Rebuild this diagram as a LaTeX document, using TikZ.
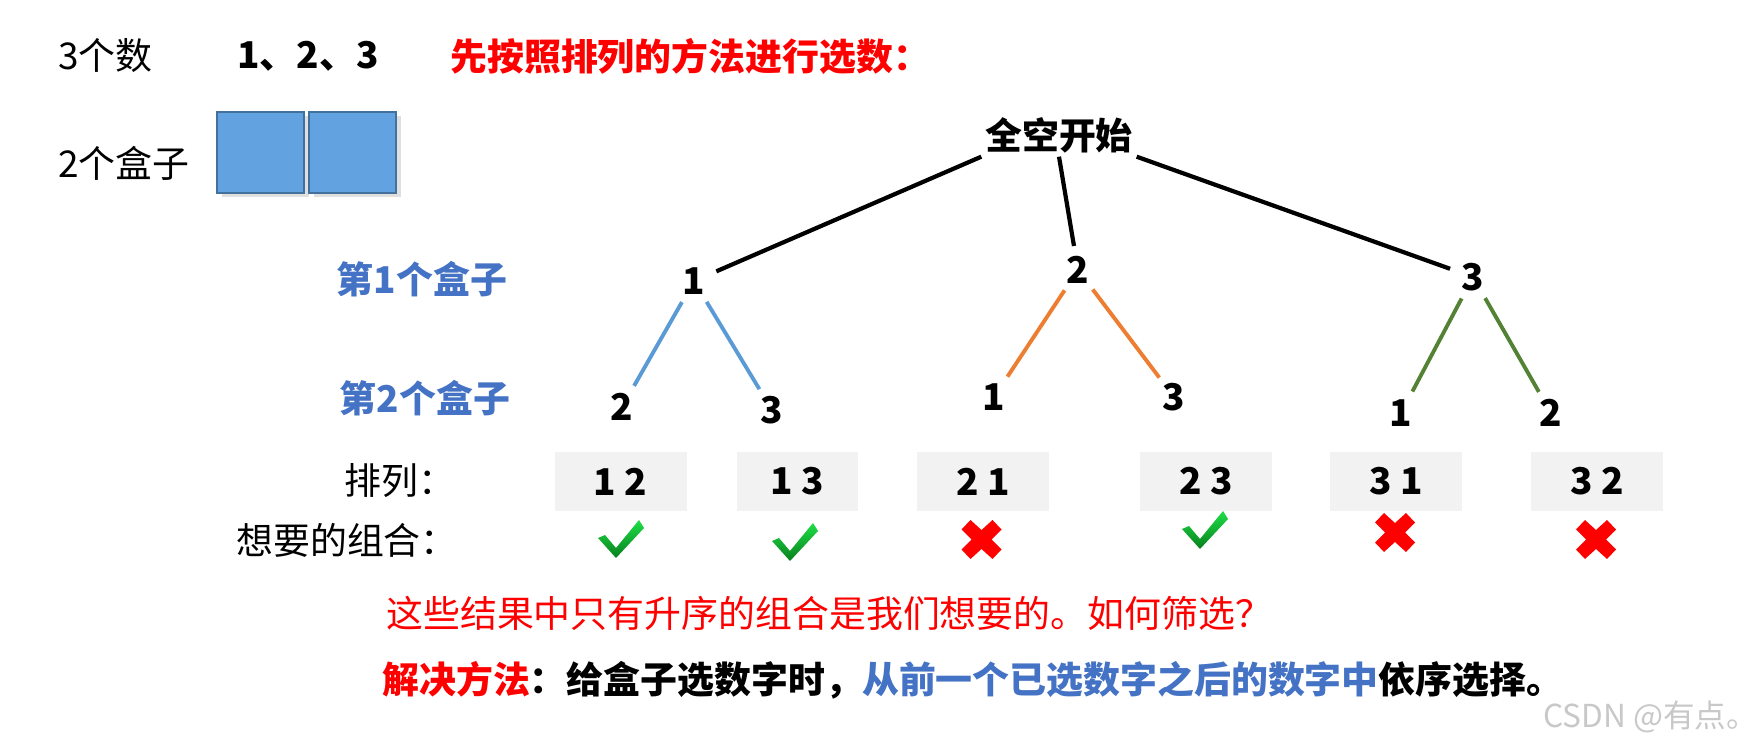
\documentclass[tikz,border=0pt]{standalone}
\usepackage{fontspec}
\setmainfont{Noto Sans CJK SC}
\usetikzlibrary{shadows}

\definecolor{boxblue}{RGB}{99,162,224}
\definecolor{boxedge}{RGB}{65,113,156}
\definecolor{labelblue}{RGB}{68,114,196}
\definecolor{lineblue}{RGB}{91,155,213}
\definecolor{lineorange}{RGB}{237,125,49}
\definecolor{linegreen}{RGB}{84,130,53}
\definecolor{permgray}{RGB}{242,242,242}
\definecolor{tickhi}{RGB}{30,222,70}
\definecolor{ticklo}{RGB}{8,128,30}
\definecolor{markgray}{RGB}{200,200,200}

% green tick, top left corner given in px
\newcommand{\tickat}[2]{%
  \shade[top color=tickhi, bottom color=ticklo, shift={(#1,#2)}]
    (0,18) -- (7,15) -- (18,28) -- (41,0) -- (46,8) -- (18,38) -- cycle;}
% red cross, centre given in px
\newcommand{\crossat}[2]{%
  \fill[red, shift={(#1,#2)}] (-11,-19.5) -- (0,-9.5) -- (11,-19.5) -- (20,-10)
    -- (10,0) -- (20,10) -- (11,19.5) -- (0,9.5) -- (-11,19.5) -- (-20,10)
    -- (-10,0) -- (-20,-10) -- cycle;}

\begin{document}
\fontsize{21pt}{25pt}\selectfont
\begin{tikzpicture}[x=0.2mm, y=-0.2mm,
    txt/.style={inner sep=0pt, anchor=west},
    num/.style={circle, inner sep=0pt, minimum size=9.6mm, font=\bfseries},
    boxlabel/.style={inner sep=0pt, text=labelblue, font=\bfseries},
    emptybox/.style={fill=boxblue, draw=boxedge, line width=1.2pt,
        drop shadow={shadow xshift=3pt, shadow yshift=-2pt, opacity=.25}},
    perm/.style={fill=permgray, minimum width=26.4mm, minimum height=11.8mm,
        inner sep=0pt, font=\bfseries},
    rootline/.style={line width=2.4pt},
    branch/.style={line width=2.2pt}]
    \useasboundingbox (0,0) rectangle (1763,752);

    % given numbers and boxes
    \node[txt] (count) at (58,56) {3个数};
    \node[inner sep=0pt, font=\bfseries] (digits) at (308,56) {1、2、3};
    \node[txt, text=red, font=\bfseries] (title) at (450,56) {先按照排列的方法进行选数：};
    \node[txt] (boxes) at (58,163) {2个盒子};
    \draw[emptybox] (217,112) rectangle (304,193);
    \draw[emptybox] (309,112) rectangle (396,193);

    % tree
    \node[inner sep=2pt, font=\bfseries] (root) at (1059,135) {全空开始};
    \node[boxlabel] (first) at (422,279) {第1个盒子};
    \node[boxlabel] (second) at (425,398) {第2个盒子};
    \node[num] (a1) at (694,281) {1};
    \node[num] (a2) at (1078,270) {2};
    \node[num] (a3) at (1473,277) {3};
    \node[num] (b12) at (622,407) {2};
    \node[num] (b13) at (772,410) {3};
    \node[num] (b21) at (994,397) {1};
    \node[num] (b23) at (1174,397) {3};
    \node[num] (b31) at (1401,413) {1};
    \node[num] (b32) at (1551,413) {2};
    \draw[rootline] (root.south west) -- (a1);
    \draw[rootline] (root.south) -- (a2);
    \draw[rootline] (root.south east) -- (a3);
    \draw[branch, lineblue] (a1) -- (b12);
    \draw[branch, lineblue] (a1) -- (b13);
    \draw[branch, lineorange] (a2) -- (b21);
    \draw[branch, lineorange] (a2) -- (b23);
    \draw[branch, linegreen] (a3) -- (b31);
    \draw[branch, linegreen] (a3) -- (b32);

    % permutations
    \node[inner sep=0pt] (permtext) at (400,481) {排列：};
    \node[perm] (p12) at (620.5,481.5) {1 2};
    \node[perm, minimum width=24.2mm] (p13) at (797.5,481.5) {1 3};
    \node[perm] (p21) at (983,481.5) {2 1};
    \node[perm] (p23) at (1206,481.5) {2 3};
    \node[perm] (p31) at (1396,481.5) {3 1};
    \node[perm] (p32) at (1597,481.5) {3 2};
    \node[inner sep=0pt] (wanted) at (347,540) {想要的组合：};
    \tickat{598}{520}
    \tickat{772}{523}
    \crossat{981.5}{539.5}
    \tickat{1182}{511}
    \crossat{1395}{532.5}
    \crossat{1596}{539.5}

    % remarks
    \node[txt, text=red] (question) at (386,613) {这些结果中只有升序的组合是我们想要的。如何筛选？};
    \node[txt, font=\bfseries] (solution) at (382,680)
        {\textcolor{red}{解决方法}：给盒子选数字时，\textcolor{labelblue}{从前一个已选数字之后的数字中}依序选择。};
    \node[txt, text=markgray, font=\fontsize{18pt}{20pt}\selectfont] (mark) at (1543,717) {CSDN @有点。};
\end{tikzpicture}
\end{document}
